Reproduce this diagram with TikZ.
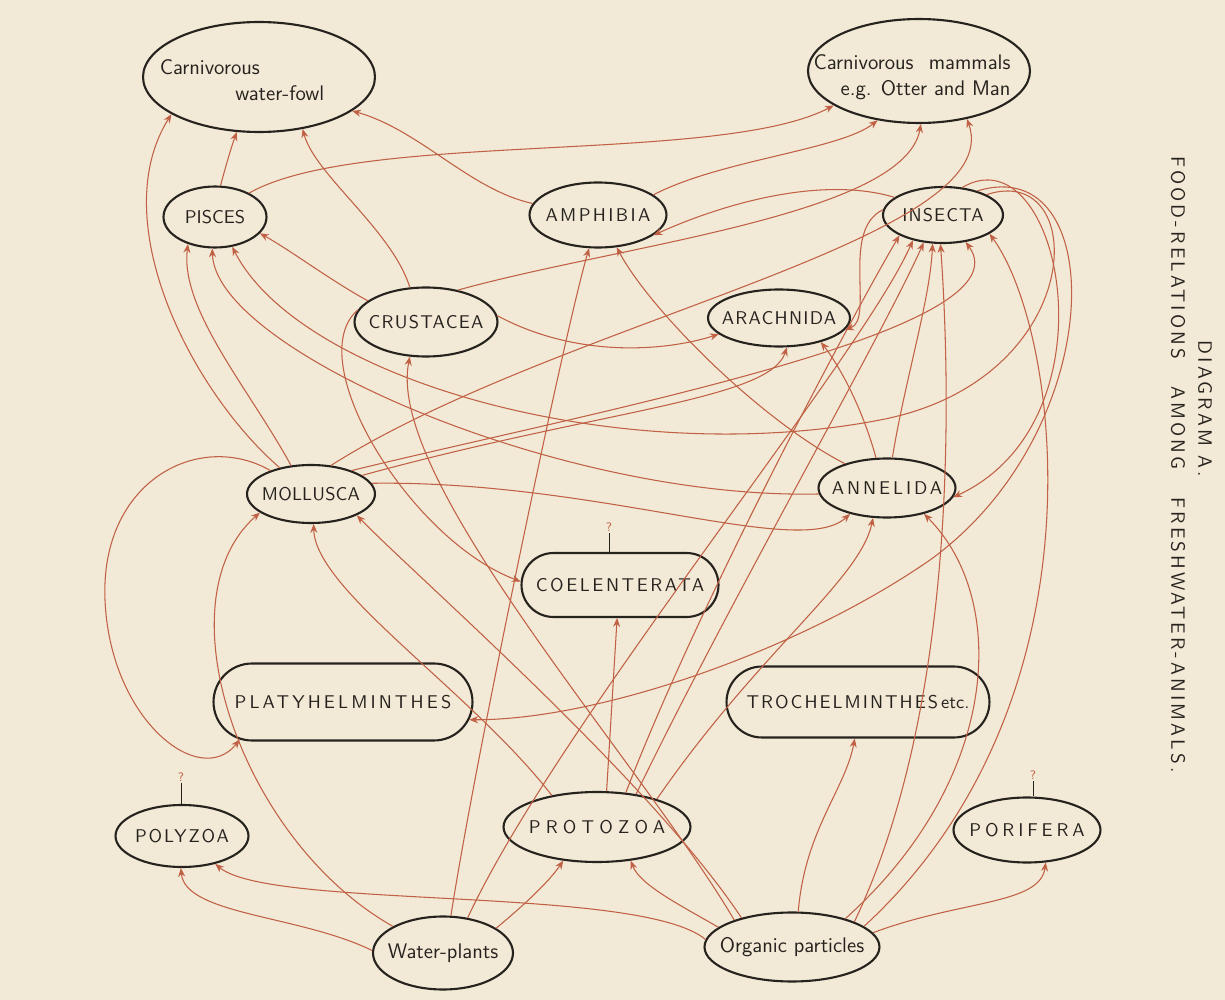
\documentclass[tikz,border=0pt]{standalone}
\usepackage{fontspec}
\newfontfamily\capsfont{lmsans10-regular.otf}
\newfontfamily\titlefont{lmsans10-regular.otf}[LetterSpace=16]
\usetikzlibrary{shapes.geometric,shapes.misc,arrows.meta}
\definecolor{paper}{RGB}{242,233,214}
\definecolor{ink}{RGB}{38,34,30}
\definecolor{rust}{RGB}{192,96,68}
\newcommand{\lab}[2]{\makebox[0pt]{\addfontfeature{LetterSpace=#1}#2}}
\tikzset{
  taxon/.style={ellipse,draw=ink,line width=1.2pt,inner sep=0pt,text=ink,
    font=\fontsize{10.5}{13}\selectfont\capsfont},
  longtaxon/.style={taxon,rounded rectangle},
  hand/.style={text=ink,inner sep=0pt,font=\fontsize{12}{15}\selectfont\sffamily},
  feed/.style={draw=rust,line width=0.6pt,-{Stealth[length=5pt,width=4pt]}},
  query/.style={text=rust,inner sep=1pt,font=\scriptsize\sffamily},
  title/.style={text=ink,inner sep=0pt,rotate=-90,
    font=\fontsize{11}{13}\selectfont\titlefont}
}
\begin{document}
\begin{tikzpicture}[x=0.02cm,y=-0.02cm]
\fill[paper] (0,0) rectangle (1225,1000);
% taxa
\node[taxon,minimum width=4.64cm,minimum height=2.2cm] (fowl) at (259,77) {};
\node[hand,align=left] (fowltext) at (242,80) {Carnivorous\\\hspace*{43pt}water-fowl};
\node[taxon,minimum width=4.44cm,minimum height=2.08cm] (mammals) at (919,71) {};
\node[hand,align=right] (mammaltext) at (912,77) {Carnivorous\hspace{0.4em} mammals\\e.g. Otter and Man};
\node[taxon,minimum width=2.06cm,minimum height=1.22cm] (pisces) at (215,217) {\lab{0}{PISCES}};
\node[taxon,minimum width=2.74cm,minimum height=1.3cm] (amphibia) at (598,215) {\lab{13}{AMPHIBIA}};
\node[taxon,minimum width=2.4cm,minimum height=1.12cm] (insecta) at (943,215) {\lab{6}{INSECTA}};
\node[taxon,minimum width=2.86cm,minimum height=1.38cm] (crustacea) at (426,322) {\lab{7}{CRUSTACEA}};
\node[taxon,minimum width=2.84cm,minimum height=1.14cm] (arachnida) at (779,318) {\lab{7}{ARACHNIDA}};
\node[taxon,minimum width=2.56cm,minimum height=1.16cm] (mollusca) at (311,494) {\lab{1}{MOLLUSCA}};
\node[taxon,minimum width=2.74cm,minimum height=1.18cm] (annelida) at (887,488) {\lab{16}{ANNELIDA}};
\node[longtaxon,minimum width=3.94cm,minimum height=1.28cm] (coelent) at (620,585) {\lab{14}{COELENTERATA}};
\node[longtaxon,minimum width=5.18cm,minimum height=1.54cm] (platy) at (343,702) {\lab{17}{PLATYHELMINTHES}};
\node[longtaxon,minimum width=5.26cm,minimum height=1.42cm] (trochel) at (858,702) {\lab{11}{TROCHELMINTHES{\addfontfeature{LetterSpace=0}\,etc.}}};
\node[taxon,minimum width=2.66cm,minimum height=1.24cm] (polyzoa) at (182,836) {\lab{10}{POLYZOA}};
\node[taxon,minimum width=3.74cm,minimum height=1.4cm] (protozoa) at (597,827) {\lab{28}{PROTOZOA}};
\node[taxon,minimum width=2.94cm,minimum height=1.3cm] (porifera) at (1027,830) {\lab{21}{PORIFERA}};
\node[taxon,minimum width=2.8cm,minimum height=1.46cm,font=\fontsize{12}{15}\selectfont\sffamily] (plants) at (443,953) {\makebox[0pt]{Water-plants}};
\node[taxon,minimum width=3.5cm,minimum height=1.38cm,font=\fontsize{12}{15}\selectfont\sffamily] (particles) at (792,947) {\makebox[0pt]{Organic particles}};
% doubtful ones
\node[query] (qcoel) at (609,527) {?};
\draw[ink,line width=0.5pt] (qcoel.south) -- (qcoel.south |- coelent.north);
\node[query] (qpoly) at (181,777) {?};
\draw[ink,line width=0.5pt] (qpoly.south) -- (qpoly.south |- polyzoa.north);
\node[query] (qpori) at (1033,775) {?};
\draw[ink,line width=0.5pt] (qpori.south) -- (qpori.south |- porifera.north);
% title
\node[title] (diagram) at (1205,409) {DIAGRAM A.};
\node[title] (food) at (1178,258) {FOOD-RELATIONS};
\node[title] (among) at (1178,428) {AMONG};
\node[title] (fresh) at (1178,635) {FRESHWATER-ANIMALS.};
% eaten by water-fowl
\draw[feed] (mollusca.140) .. controls (190,390) and (105,220) .. (fowl.-157);
\draw[feed] (pisces.80) .. controls (226,165) and (232,145) .. (fowl.-112);
\draw[feed] (crustacea.115) .. controls (392,230) and (315,175) .. (fowl.-50);
\draw[feed] (amphibia.170) .. controls (470,190) and (420,130) .. (fowl.-20);
% eaten by mammals
\draw[feed] (pisces.35) .. controls (360,130) and (720,165) .. (mammals.-158);
\draw[feed] (amphibia.20) .. controls (720,160) and (840,150) .. (mammals.-130);
\draw[feed] (crustacea.45) .. controls (620,245) and (905,215) .. (mammals.-88);
\draw[feed] (mollusca.55) .. controls (560,320) and (1010,240) .. (mammals.-45);
% eaten by pisces
\draw[feed] (mollusca.125) .. controls (250,390) and (180,310) .. (pisces.-135);
\draw[feed] (annelida.185) .. controls (560,500) and (215,350) .. (pisces.-95);
\draw[feed] (insecta.25) .. controls (1090,160) and (1090,380) .. (880,420)
  .. controls (620,470) and (300,380) .. (pisces.-60);
\draw[feed] (crustacea.160) .. controls (330,280) and (290,250) .. (pisces.-20);
% eaten by amphibia
\draw[feed] (plants.78) .. controls (475,760) and (565,330) .. (amphibia.-105);
\draw[feed] (annelida.150) .. controls (760,420) and (650,310) .. (amphibia.-60);
\draw[feed] (insecta.160) .. controls (820,175) and (720,205) .. (amphibia.-20);
% eaten by insecta
\draw[feed] (protozoa.50) .. controls (700,600) and (850,320) .. (insecta.-155);
\draw[feed] (plants.55) .. controls (560,720) and (860,360) .. (insecta.-140);
\draw[feed] (protozoa.40) .. controls (730,600) and (880,340) .. (insecta.-125);
\draw[feed] (annelida.80) .. controls (905,380) and (930,300) .. (insecta.-110);
\draw[feed] (particles.22) .. controls (960,700) and (950,380) .. (insecta.-95);
\draw[feed] (mollusca.30) .. controls (600,410) and (1030,330) .. (insecta.-50);
\draw[feed] (particles.16) .. controls (1110,700) and (1060,330) .. (insecta.-22);
% insecta as food
\draw[feed] (insecta.55) .. controls (1060,130) and (1120,420) .. (annelida.-8);
\draw[feed] (insecta.35) .. controls (1110,150) and (1110,430) .. (930,560)
  .. controls (800,650) and (600,720) .. (platy.-8);
% eaten by arachnida
\draw[feed] (crustacea.5) .. controls (580,360) and (670,350) .. (arachnida.-165);
\draw[feed] (mollusca.20) .. controls (600,410) and (770,400) .. (arachnida.-75);
\draw[feed] (annelida.110) .. controls (860,400) and (835,360) .. (arachnida.-30);
\draw[feed] (insecta.175) .. controls (840,230) and (875,320) .. (arachnida.-10);
% eaten by mollusca
\draw[feed] (plants.152) .. controls (240,840) and (160,600) .. (mollusca.-160);
\draw[feed] (protozoa.145) .. controls (470,690) and (315,590) .. (mollusca.-85);
\draw[feed] (particles.150) .. controls (650,780) and (420,580) .. (mollusca.-25);
\draw[feed] (mollusca.150) .. controls (200,430) and (100,480) .. (105,600)
  .. controls (110,720) and (200,790) .. (platy.-160);
% eaten by crustacea and annelida
\draw[feed] (particles.155) .. controls (640,760) and (385,480) .. (crustacea.-115);
\draw[feed] (mollusca.10) .. controls (600,480) and (800,560) .. (annelida.-145);
\draw[feed] (protozoa.25) .. controls (760,650) and (860,580) .. (annelida.-115);
\draw[feed] (particles.28) .. controls (1000,780) and (1010,600) .. (annelida.-35);
% the lower groups
\draw[feed] (crustacea.170) .. controls (300,360) and (410,540) .. (coelent.178);
\draw[feed] (protozoa.75) -- (coelent.-95);
\draw[feed] (particles.80) .. controls (805,830) and (845,790) .. (trochel.-95);
\draw[feed] (plants.178) .. controls (300,915) and (185,915) .. (polyzoa.-92);
\draw[feed] (particles.175) .. controls (640,885) and (270,910) .. (polyzoa.-40);
\draw[feed] (plants.25) .. controls (530,900) and (550,880) .. (protozoa.-135);
\draw[feed] (particles.165) .. controls (680,905) and (640,885) .. (protozoa.-45);
\draw[feed] (particles.10) .. controls (960,900) and (1040,905) .. (porifera.-60);
\end{tikzpicture}
\end{document}
